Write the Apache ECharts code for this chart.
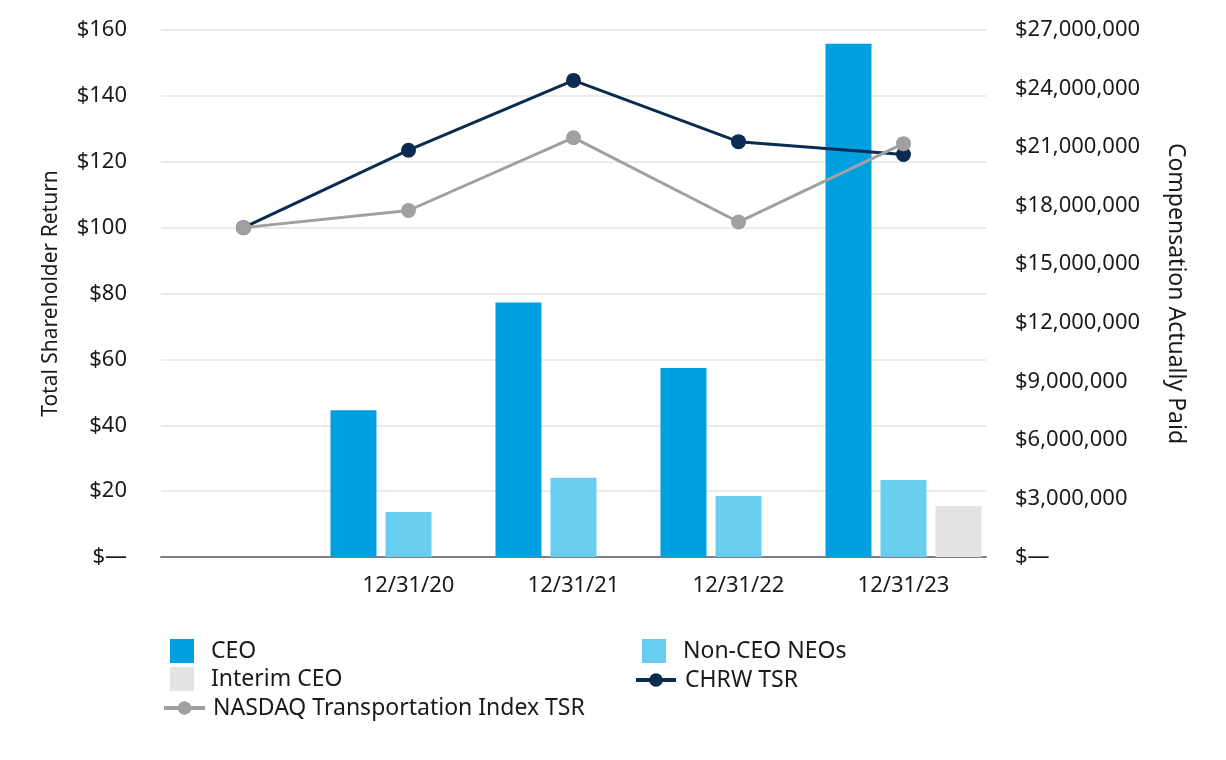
<!DOCTYPE html>
<html>
<head>
<meta charset="utf-8">
<script src="https://cdn.jsdelivr.net/npm/echarts@6/dist/echarts.min.js"></script>
<style>
html,body{margin:0;padding:0;background:#fff;}
#chart{width:1226px;height:760px;}
</style>
</head>
<body>
<div id="chart"></div>
<script>
var categories = ['', '12/31/20', '12/31/21', '12/31/22', '12/31/23'];
var ceoPay = [null, 7520000, 13040000, 9680000, 26300000];
var nonCeoPay = [null, 2300000, 4060000, 3130000, 3940000];
var interimCeoPay = [null, null, null, null, 2610000];
var chrwTsr = [100, 123.5, 144.7, 126.1, 122.2];
var nasdaqTsr = [100, 105.2, 127.3, 101.7, 125.5];

var FONT = '"Noto Sans", sans-serif';
var TXT = '#1a1a1a';

function commas(v) {
  return String(Math.round(v)).replace(/\B(?=(\d{3})+(?!\d))/g, ',');
}

var chart = echarts.init(document.getElementById('chart'));
chart.setOption({
  animation: false,
  textStyle: { fontFamily: FONT, color: TXT },
  grid: { left: 161, right: 240, top: 30, bottom: 203, containLabel: false },
  xAxis: {
    type: 'category',
    data: categories,
    axisTick: { show: false },
    axisLine: { lineStyle: { color: '#808080', width: 2 } },
    axisLabel: { color: TXT, fontSize: 22, fontFamily: FONT, margin: 18 }
  },
  yAxis: [
    {
      type: 'value', min: 0, max: 160, interval: 20,
      name: 'Total Shareholder Return', nameLocation: 'middle', nameGap: 99,
      nameTextStyle: { color: TXT, fontSize: 21, fontFamily: FONT },
      axisLine: { show: false }, axisTick: { show: false },
      axisLabel: {
        color: TXT, fontSize: 22, fontFamily: FONT, margin: 34,
        formatter: function (v) { return v === 0 ? '$\u2014' : '$' + v; }
      },
      splitLine: { lineStyle: { color: '#e4e4e4', width: 1.5 } }
    },
    {
      type: 'value', min: 0, max: 27000000, interval: 3000000,
      name: 'Compensation Actually Paid', nameLocation: 'middle', nameGap: 178, nameRotate: -90,
      nameTextStyle: { color: TXT, fontSize: 23, fontFamily: FONT },
      axisLine: { show: false }, axisTick: { show: false },
      axisLabel: {
        color: TXT, fontSize: 22, fontFamily: FONT, margin: 29,
        formatter: function (v) { return v === 0 ? '$\u2014' : '$' + commas(v); }
      },
      splitLine: { show: false }
    }
  ],
  legend: [
    {
      data: ['CEO', 'Interim CEO'], orient: 'vertical', left: 170, top: 639, padding: 0,
      itemWidth: 24, itemHeight: 24, itemGap: 4, icon: 'rect',
      textStyle: { color: TXT, fontSize: 23, fontFamily: FONT, lineHeight: 24, padding: [0, 0, 0, 12] }
    },
    {
      data: ['NASDAQ Transportation Index TSR'], orient: 'vertical', left: 162, top: 696, padding: 0,
      itemWidth: 41, itemHeight: 17,
      lineStyle: { width: 4 },
      textStyle: { color: TXT, fontSize: 23, fontFamily: FONT, lineHeight: 24, padding: [0, 0, 0, 3] }
    },
    {
      data: ['Non-CEO NEOs'], orient: 'vertical', left: 642, top: 639, padding: 0,
      itemWidth: 24, itemHeight: 24, icon: 'rect',
      textStyle: { color: TXT, fontSize: 23, fontFamily: FONT, lineHeight: 24, padding: [0, 0, 0, 12] }
    },
    {
      data: ['CHRW TSR'], orient: 'vertical', left: 634, top: 668, padding: 0,
      itemWidth: 40, itemHeight: 17,
      lineStyle: { width: 4 },
      textStyle: { color: TXT, fontSize: 23, fontFamily: FONT, lineHeight: 24, padding: [0, 0, 0, 4] }
    }
  ],
  series: [
    {
      name: 'CEO', type: 'bar', yAxisIndex: 1, data: ceoPay,
      barWidth: 46, barGap: '19.6%', itemStyle: { color: '#009fdf' }
    },
    {
      name: 'Non-CEO NEOs', type: 'bar', yAxisIndex: 1, data: nonCeoPay,
      barWidth: 46, barGap: '19.6%', itemStyle: { color: '#69cdf0' }
    },
    {
      name: 'Interim CEO', type: 'bar', yAxisIndex: 1, data: interimCeoPay,
      barWidth: 46, barGap: '19.6%', itemStyle: { color: '#e3e3e3' }
    },
    {
      name: 'CHRW TSR', type: 'line', yAxisIndex: 0, data: chrwTsr,
      symbol: 'circle', symbolSize: 15, z: 5,
      lineStyle: { color: '#0b2c50', width: 3 }, itemStyle: { color: '#0b2c50' }
    },
    {
      name: 'NASDAQ Transportation Index TSR', type: 'line', yAxisIndex: 0, data: nasdaqTsr,
      symbol: 'circle', symbolSize: 15, z: 6,
      lineStyle: { color: '#a0a0a0', width: 3 }, itemStyle: { color: '#a0a0a0' }
    }
  ]
});
</script>
</body>
</html>
